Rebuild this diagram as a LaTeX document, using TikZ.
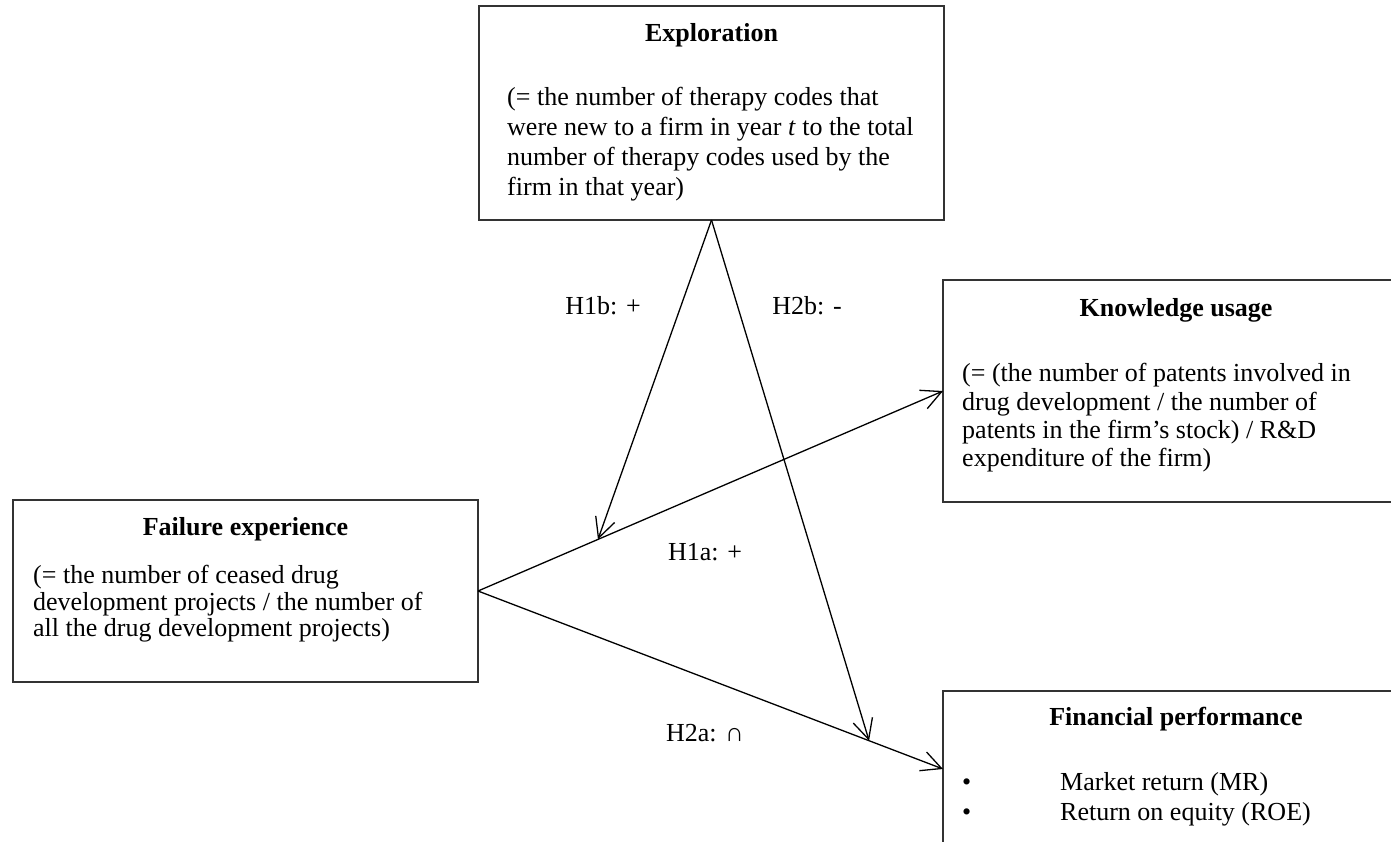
\documentclass[tikz,border=0pt]{standalone}
\usepackage{fontspec}
\setmainfont{Liberation Serif}
\usetikzlibrary{arrows.meta}
\begin{document}
\begin{tikzpicture}[x=1pt,y=-1pt,
  box/.style={draw=black!80, line width=1.3pt, minimum width=465pt, anchor=north west, inner sep=0pt, outer sep=0pt},
  ttl/.style={font=\fontsize{26}{30}\selectfont\bfseries, anchor=base, inner sep=0pt},
  ln/.style={font=\fontsize{26}{30}\selectfont, anchor=base west, inner sep=0pt},
  lab/.style={font=\fontsize{26}{30}\selectfont, inner sep=0pt},
  arr/.style={line width=1.3pt, -{Straight Barb[length=20pt,width=20pt,line width=1.3pt]}}
]
\clip (0,0) rectangle (1391,841);

% boxes
\node[box, minimum height=214pt] (expl) at (479,6) {};
\node[box, minimum height=222pt] (know) at (943,280) {};
\node[box, minimum height=182pt] (fail) at (13,500) {};
\node[box, minimum height=156pt] (fin) at (943,691) {};

% Exploration texts
\node[ttl] (explT) at (711.5,41) {Exploration};
\node[ln] (e1) at (507,105) {(= the number of therapy codes that};
\node[ln] (e2) at (507,135) {were new to a firm in year \textit{t} to the total};
\node[ln] (e3) at (507,165) {number of therapy codes used by the};
\node[ln] (e4) at (507,195) {firm in that year)};

% Knowledge texts
\node[ttl] (knowT) at (1176,316) {Knowledge usage};
\node[ln] (k1) at (962,381) {(= (the number of patents involved in};
\node[ln] (k2) at (962,410) {drug development / the number of};
\node[ln] (k3) at (962,438) {patents in the firm’s stock) / R\&D};
\node[ln] (k4) at (962,466) {expenditure of the firm)};

% Failure texts
\node[ttl] (failT) at (245.5,535) {Failure experience};
\node[ln] (f1) at (33,583) {(= the number of ceased drug};
\node[ln] (f2) at (33,610) {development projects / the number of};
\node[ln] (f3) at (33,636) {all the drug development projects)};

% Financial texts
\node[ttl] (finT) at (1176,725) {Financial performance};
\node[ln] (b1) at (962,790) {•};
\node[ln] (b2) at (962,820) {•};
\node[ln] (fm) at (1060,790) {Market return (MR)};
\node[ln] (fr) at (1060,820) {Return on equity (ROE)};

% connectors
\draw[arr] (fail.east) -- (know.west);
\draw[arr] (fail.east) -- (fin.west);
\path (fail.east) -- (know.west) coordinate[pos=0.258] (m1);
\path (fail.east) -- (fin.west) coordinate[pos=0.841] (m2);
\draw[arr] (expl.south) -- (m1);
\draw[arr] (expl.south) -- (m2);

% labels
\node[lab] (h1b) at (603,306) {H1b: +};
\node[lab] (h2b) at (807,306) {H2b: -};
\node[lab] (h1a) at (705,552) {H1a: +};
\node[lab] (h2a) at (705,733) {H2a: ∩};
\end{tikzpicture}
\end{document}
